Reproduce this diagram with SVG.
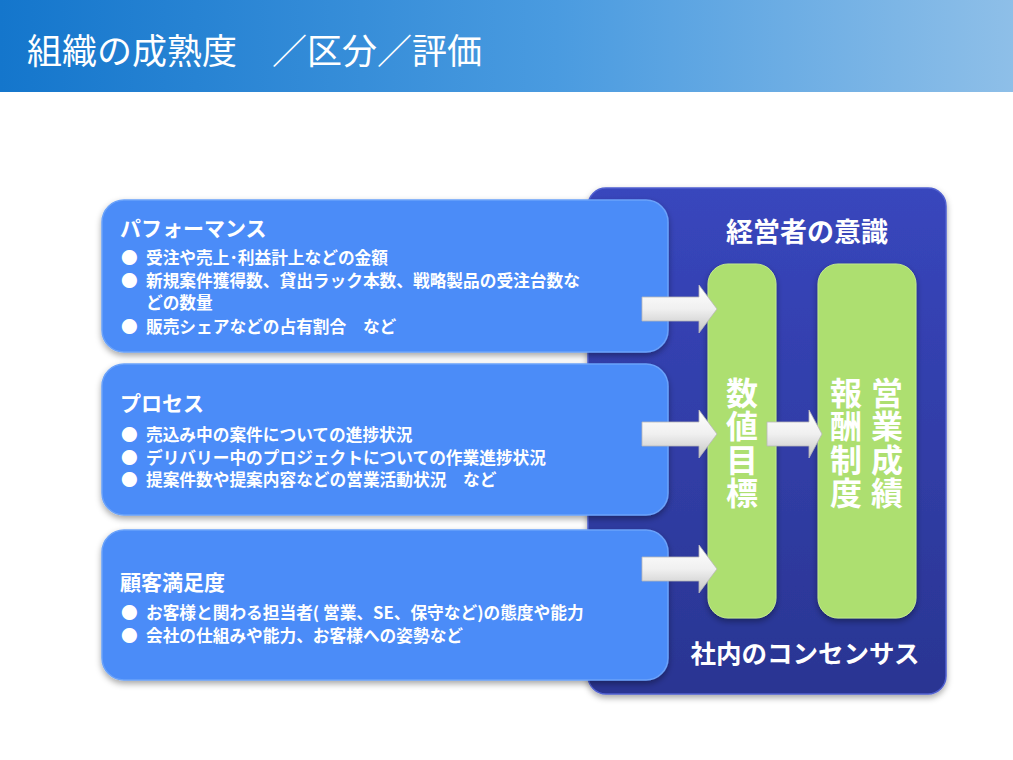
<svg xmlns="http://www.w3.org/2000/svg" width="1013" height="760" viewBox="0 0 1013 760">
<defs>
<linearGradient id="hdr" x1="0" y1="0" x2="1" y2="0">
<stop offset="0" stop-color="#1476cc"/>
<stop offset="0.55" stop-color="#4a9be0"/>
<stop offset="1" stop-color="#8ebfe8"/>
</linearGradient>
<linearGradient id="panel" x1="0" y1="0" x2="0" y2="1">
<stop offset="0" stop-color="#3846bd"/>
<stop offset="1" stop-color="#2a3592"/>
</linearGradient>
<linearGradient id="arw" x1="0" y1="0" x2="0" y2="1">
<stop offset="0" stop-color="#ffffff"/>
<stop offset="0.5" stop-color="#f0f0f0"/>
<stop offset="1" stop-color="#c4c4c4"/>
</linearGradient>
<filter id="sh" x="-10%" y="-10%" width="120%" height="130%">
<feDropShadow dx="0" dy="3" stdDeviation="3" flood-color="#000" flood-opacity="0.35"/>
</filter>
</defs>
<style>
.t{font-family:"Noto Sans CJK JP","Liberation Sans",sans-serif;fill:#fff}
.h{font-size:21px;font-weight:700}
.b{font-size:16.7px;font-weight:700}
.blue{fill:#4c8cf8;stroke:#6aa2fa;stroke-width:1.5}
.green{fill:#addf6f;stroke:#c2ea8c;stroke-width:1}
.arrow{fill:url(#arw);stroke:#b8b8b8;stroke-width:0.8}
.big{font-weight:700;text-anchor:middle}
.v{font-size:32px;font-weight:700;writing-mode:vertical-rl;letter-spacing:1.3px}
</style>
<rect width="1013" height="760" fill="#fff"/>
<g id="header">
<rect x="0" y="0" width="1013" height="92" fill="url(#hdr)"/>
<text class="t" x="27" y="64" font-size="35">組織の成熟度　／区分／評価</text>
</g>
<g id="panel">
<rect x="588" y="188" width="358" height="506" rx="18" fill="url(#panel)" stroke="#5060d0" stroke-width="1.5" filter="url(#sh)"/>
<text class="t big" x="807" y="242" font-size="27">経営者の意識</text>
<text class="t big" x="805" y="663" font-size="25.5">社内のコンセンサス</text>
</g>
<g id="box-performance">
<rect class="blue" x="102" y="200" width="566" height="152" rx="22" filter="url(#sh)"/>
<text class="t h" x="120" y="236">パフォーマンス</text>
<text class="t b" x="121" y="264">●</text><text class="t b" x="146" y="264">受注や売上･利益計上などの金額</text>
<text class="t b" x="121" y="287">●</text><text class="t b" x="146" y="287">新規案件獲得数、貸出ラック本数、戦略製品の受注台数な</text>
<text class="t b" x="146" y="309">どの数量</text>
<text class="t b" x="121" y="333">●</text><text class="t b" x="146" y="333">販売シェアなどの占有割合　など</text>
</g>
<g id="box-process">
<rect class="blue" x="102" y="364" width="566" height="151" rx="22" filter="url(#sh)"/>
<text class="t h" x="120" y="411">プロセス</text>
<text class="t b" x="121" y="441">●</text><text class="t b" x="146" y="441">売込み中の案件についての進捗状況</text>
<text class="t b" x="121" y="464">●</text><text class="t b" x="146" y="464">デリバリー中のプロジェクトについての作業進捗状況</text>
<text class="t b" x="121" y="486">●</text><text class="t b" x="146" y="486">提案件数や提案内容などの営業活動状況　など</text>
</g>
<g id="box-satisfaction">
<rect class="blue" x="102" y="530" width="566" height="150" rx="22" filter="url(#sh)"/>
<text class="t h" x="120" y="590">顧客満足度</text>
<text class="t b" x="121" y="619">●</text><text class="t b" x="146" y="619">お客様と関わる担当者( 営業、SE、保守など)の態度や能力</text>
<text class="t b" x="121" y="642">●</text><text class="t b" x="146" y="642">会社の仕組みや能力、お客様への姿勢など</text>
</g>
<g id="target">
<rect class="green" x="708" y="264" width="68" height="354" rx="20" filter="url(#sh)"/>
<text class="t v" x="742" y="377">数値目標</text>
</g>
<g id="results">
<rect class="green" x="818" y="264" width="98" height="354" rx="20" filter="url(#sh)"/>
<text class="t v" x="846" y="377">報酬制度</text>
<text class="t v" x="887" y="377">営業成績</text>
</g>
<g id="connectors">
<path class="arrow" d="M642,297 H699 V285 L717,309 L699,333 V321 H642 Z"/>
<path class="arrow" d="M642,422 H699 V410 L717,434 L699,458 V446 H642 Z"/>
<path class="arrow" d="M642,557 H699 V545 L717,569 L699,593 V581 H642 Z"/>
<path class="arrow" d="M767,422 H809 V410 L822,434 L809,458 V446 H767 Z"/>
</g>
</svg>
